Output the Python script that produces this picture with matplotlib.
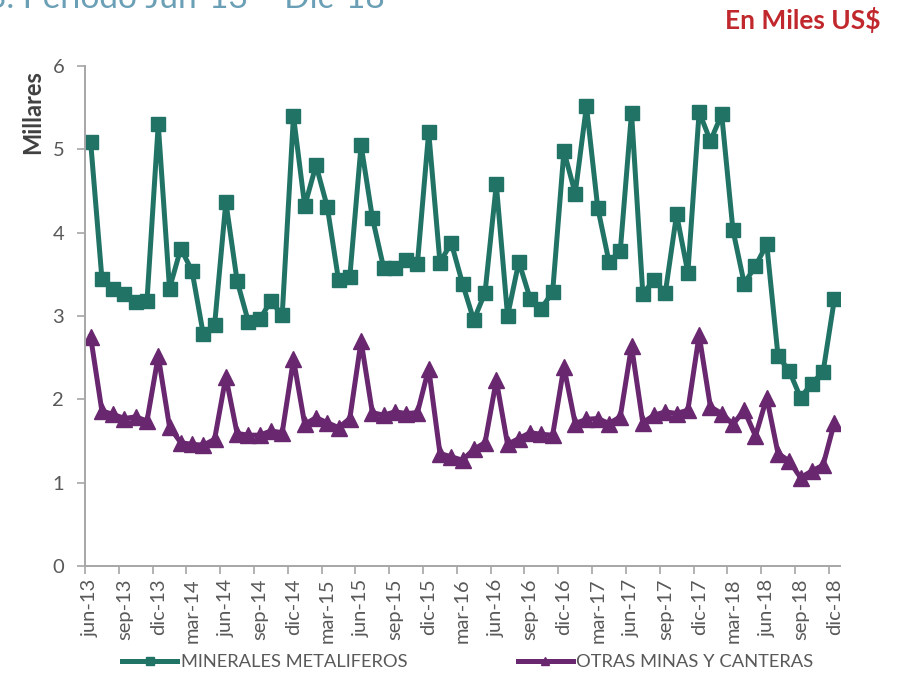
import matplotlib
matplotlib.use("Agg")
import matplotlib.pyplot as plt
import numpy as np

plt.rcParams['font.family'] = ['Lato', 'DejaVu Sans']

# meses jun-13 .. dic-18
meses = ['jun', 'jul', 'ago', 'sep', 'oct', 'nov', 'dic', 'ene', 'feb', 'mar', 'abr', 'may']
etiquetas = []
for k in range(67):
    m = meses[k % 12]
    anio = 13 + (k + 5) // 12
    etiquetas.append('%s-%d' % (m, anio))

metaliferos = [5.09, 3.45, 3.33, 3.27, 3.17, 3.18, 5.30, 3.33, 3.81, 3.54, 2.78, 2.89,
               4.37, 3.42, 2.93, 2.96, 3.18, 3.01, 5.40, 4.32, 4.81, 4.31, 3.43, 3.47,
               5.05, 4.18, 3.58, 3.58, 3.67, 3.63, 5.21, 3.64, 3.88, 3.39, 2.95, 3.28,
               4.58, 3.00, 3.65, 3.21, 3.09, 3.29, 4.98, 4.47, 5.52, 4.30, 3.65, 3.78,
               5.44, 3.27, 3.43, 3.28, 4.22, 3.52, 5.45, 5.10, 5.42, 4.03, 3.39, 3.60,
               3.86, 2.52, 2.34, 2.02, 2.19, 2.33, 3.20]

otras = [2.75, 1.86, 1.82, 1.77, 1.79, 1.74, 2.52, 1.67, 1.48, 1.46, 1.45, 1.52,
         2.27, 1.59, 1.57, 1.57, 1.62, 1.60, 2.48, 1.70, 1.78, 1.72, 1.66, 1.77,
         2.70, 1.84, 1.81, 1.85, 1.83, 1.84, 2.37, 1.35, 1.31, 1.27, 1.40, 1.48,
         2.23, 1.46, 1.53, 1.60, 1.58, 1.57, 2.39, 1.71, 1.76, 1.77, 1.71, 1.79,
         2.64, 1.72, 1.81, 1.85, 1.83, 1.87, 2.77, 1.91, 1.83, 1.70, 1.87, 1.56,
         2.02, 1.35, 1.26, 1.06, 1.14, 1.21, 1.72]

verde = '#217366'
morado = '#692770'
gris = '#595959'

x = np.arange(len(etiquetas))

fig = plt.figure(figsize=(8.97, 6.74), dpi=100)
ax = fig.add_axes([85/897, 1-566/674, (840-85)/897, (566-66)/674])

ax.plot(x, metaliferos, color=verde, lw=3.6, marker='s', ms=10.5,
        label='MINERALES METALIFEROS')
ax.plot(x, otras, color=morado, lw=3.6, marker='^', ms=11.5,
        label='OTRAS MINAS Y CANTERAS')

ax.set_xlim(-0.5, 66.5)
ax.set_ylim(0, 6)
ax.set_yticks(range(7))
ax.set_xticks(x[::3])
ax.set_xticklabels(etiquetas[::3], rotation=90)
ax.set_xticks(np.arange(-0.5, 66, 3), minor=True)
ax.tick_params(axis='x', which='major', length=0, pad=9, labelsize=14.5, labelcolor=gris)
ax.tick_params(axis='x', which='minor', length=6, color='#a6a6a6', width=1.2)
ax.tick_params(axis='y', length=6, color='#a6a6a6', width=1.2, labelsize=14.5,
               labelcolor=gris, pad=9)

for s in ['top', 'right']:
    ax.spines[s].set_visible(False)
for s in ['left', 'bottom']:
    ax.spines[s].set_color('#a6a6a6')
    ax.spines[s].set_linewidth(1.4)

fig.text(33/897, 1-112/674, 'Millares', rotation=90, ha='center', va='center',
         fontsize=17, fontweight='bold', color='#404040')

fig.text(-0.014, 1-8/674, '3. Periodo Jun-13 \u2013 Dic-18', fontsize=24,
         color='#6a9fb5', va='baseline', ha='left')
fig.text(880/897, 1-20/674, 'En Miles US$', fontsize=19, fontweight='bold',
         color='#c0282d', ha='right', va='center')

leg = fig.legend(loc='center', bbox_to_anchor=(468/897, 1-662/674), ncol=2,
                 frameon=False, fontsize=13.2, handlelength=3.0, markerscale=0.55,
                 columnspacing=6.0, handletextpad=0.2)
for t in leg.get_texts():
    t.set_color(gris)

fig.savefig('out.png', dpi=100)
